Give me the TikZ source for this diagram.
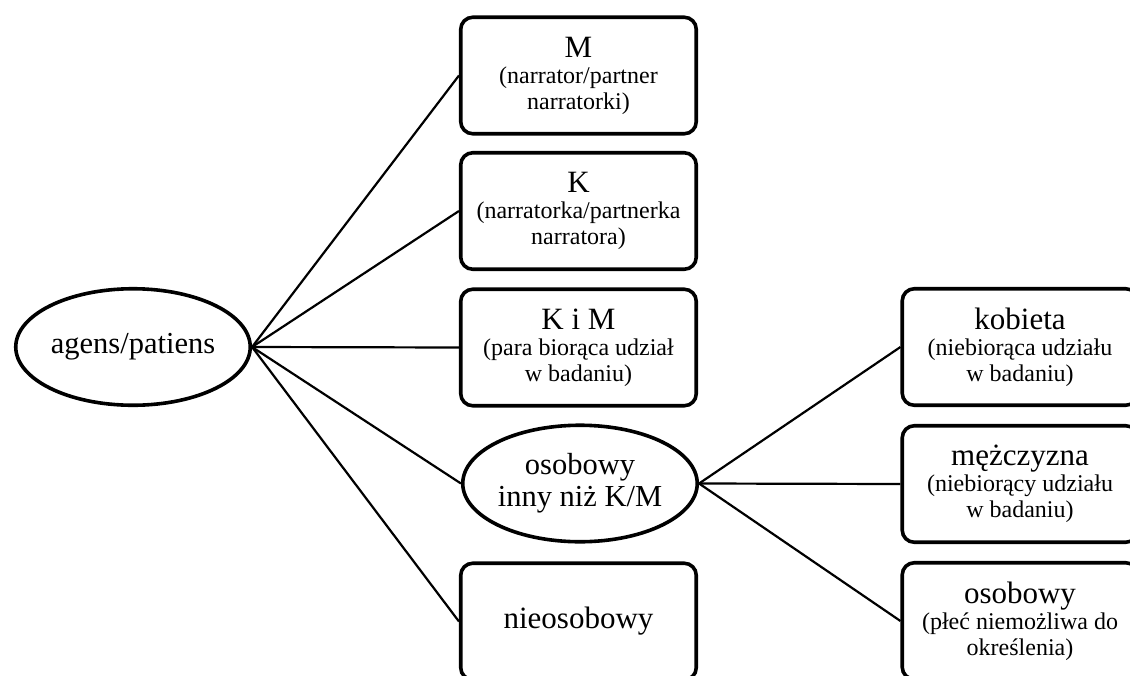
\documentclass[tikz,border=0pt]{standalone}
\usepackage{fontspec}
\setmainfont{Liberation Serif}
\usetikzlibrary{shapes.geometric}
\begin{document}
\begin{tikzpicture}[x=1pt,y=-1pt,
  box/.style={draw, line width=3.6pt, rounded corners=12pt, minimum width=235.5pt, minimum height=116.5pt,
    align=center, inner sep=0pt, font=\fontsize{24}{26}\selectfont},
  oval/.style={draw, ellipse, line width=3.6pt, minimum width=234.5pt, minimum height=116.5pt,
    align=center, inner sep=0pt, font=\fontsize{30.5}{32}\selectfont},
  link/.style={line width=2.2pt}]
\clip (0,0) rectangle (1130,675);
\fill[white] (0,0) rectangle (1130,675);
\newcommand{\ttl}[1]{{\fontsize{31}{26}\selectfont #1}}
\node[oval] (agens) at (133,347) {agens/patiens};
\node[box] (m) at (578.5,75.5) {\ttl{M}\\(narrator/partner\\narratorki)};
\node[box] (k) at (578.5,211) {\ttl{K}\\(narratorka/partnerka\\narratora)};
\node[box] (km) at (578.5,347.5) {\ttl{K i M}\\(para biorąca udział\\w badaniu)};
\node[oval] (inny) at (580,483.5) {osobowy\\inny niż K/M};
\node[box] (nieos) at (578.5,621.5) {\ttl{nieosobowy}};
\node[box] (kob) at (1020,347) {\ttl{kobieta}\\(niebiorąca udziału\\w badaniu)};
\node[box] (mez) at (1020,484) {\ttl{mężczyzna}\\(niebiorący udziału\\w badaniu)};
\node[box] (osor) at (1020,621) {\ttl{osobowy}\\(płeć niemożliwa do\\określenia)};
\draw[link] (agens.east) -- (m.west);
\draw[link] (agens.east) -- (k.west);
\draw[link] (agens.east) -- (km.west);
\draw[link] (agens.east) -- (inny.west);
\draw[link] (agens.east) -- (nieos.west);
\draw[link] (inny.east) -- (kob.west);
\draw[link] (inny.east) -- (mez.west);
\draw[link] (inny.east) -- (osor.west);
\end{tikzpicture}
\end{document}
